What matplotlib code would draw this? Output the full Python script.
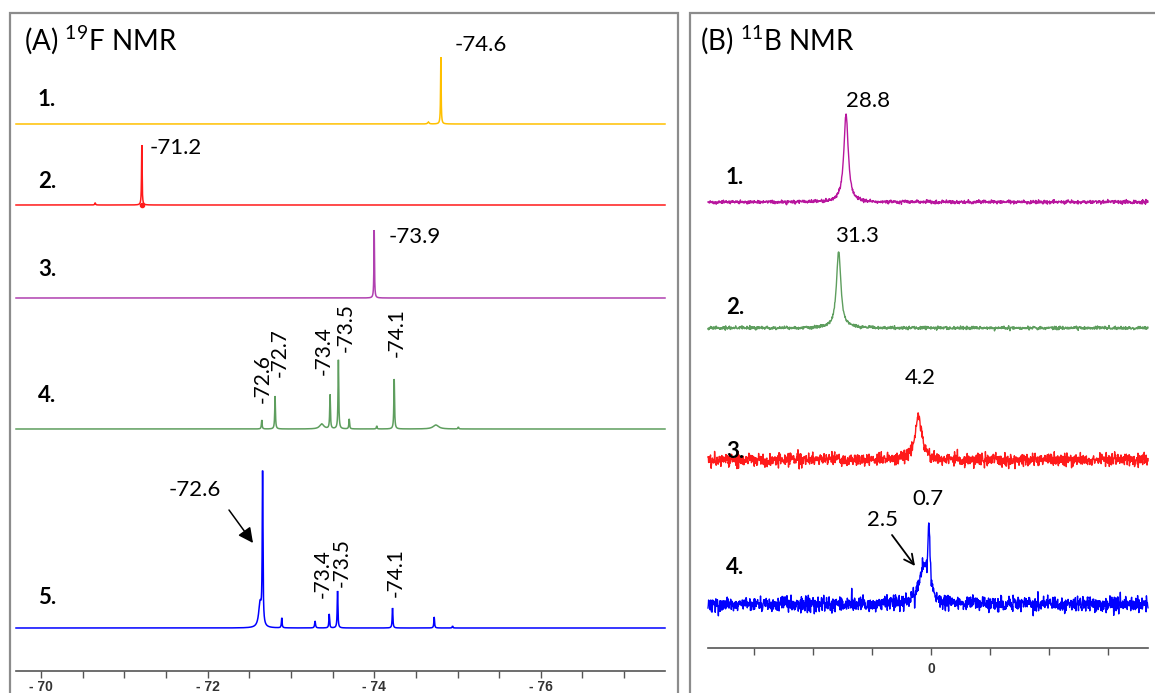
import numpy as np
import matplotlib
matplotlib.use("Agg")
import matplotlib.pyplot as plt
from matplotlib.patches import Rectangle

plt.rcParams['font.family'] = ['Lato', 'DejaVu Sans']
plt.rcParams['mathtext.fontset'] = 'custom'
plt.rcParams['mathtext.rm'] = 'Lato'

# ---------------- data: panel A, 19F NMR ----------------
f_labels = ["1.", "2.", "3.", "4.", "5."]
f_colors = ["#FFC000", "#FF1A1A", "#B040B0", "#5E9E5E", "#0000FF"]

f1_shift = [-74.80, -74.65]
f1_height = [67, 2]
f1_width = [0.004, 0.01]

f2_shift = [-71.21, -70.65]
f2_height = [60, 2]
f2_width = [0.004, 0.006]

f3_shift = [-74.00]
f3_height = [68]
f3_width = [0.004]

f4_shift = [-72.65, -72.81, -73.37, -73.47, -73.57, -73.70, -74.03, -74.24, -74.74, -75.01]
f4_height = [9, 33, 5, 34, 69, 10, 3, 50, 4, 2]
f4_width = [0.005, 0.005, 0.03, 0.005, 0.005, 0.005, 0.005, 0.005, 0.04, 0.005]

f5_shift = [-72.66, -72.63, -72.89, -73.29, -73.46, -73.56, -74.22, -74.72, -74.94]
f5_height = [150, 24, 10, 7, 14, 37, 20, 11, 2]
f5_width = [0.005, 0.02, 0.005, 0.006, 0.005, 0.005, 0.005, 0.005, 0.005]

f_ticks = [-70, -72, -74, -76]
f_ticklabels = ["- 70", "- 72", "- 74", "- 76"]

# peak annotations (text, index of peak)
f1_notes = [("-74.6", 0)]
f2_notes = [("-71.2", 0)]
f3_notes = [("-73.9", 0)]
f4_notes = [("-72.6", 0), ("-72.7", 1), ("-73.4", 3), ("-73.5", 4), ("-74.1", 7)]
f5_main_note = ("-72.6", 0)
f5_notes = [("-73.4", 4), ("-73.5", 5), ("-74.1", 6)]

# ---------------- data: panel B, 11B NMR ----------------
b_labels = ["1.", "2.", "3.", "4."]
b_colors = ["#B8169E", "#5E9E5E", "#FF1A1A", "#0000FF"]

b1_shift = [28.8]
b1_height = [88]
b1_width = [0.9]
b2_shift = [31.3]
b2_height = [76]
b2_width = [0.9]
b3_shift = [4.2]
b3_height = [42]
b3_width = [1.5]
b4_shift = [0.7, 2.5]
b4_height = [62, 34]
b4_width = [0.45, 1.8]
b_noise = [0.9, 0.8, 3.2, 3.8]

b_notes = [("28.8", 0), ("31.3", 0), ("4.2", 0), ("0.7", 0)]
b4_arrow_note = ("2.5", 1)

# ---------------- layout helpers ----------------
W, H = 1155, 693
fig = plt.figure(figsize=(W / 100, H / 100), dpi=100)

A_L, A_R, A_T, A_B = 16, 665, 20, 671      # axes box in image pixels
A_X70, A_PPM_PX = 41, 83.3                 # pixel of -70 ppm, pixels per ppm
B_L, B_R, B_T, B_B = 708, 1148, 20, 648
B_X0, B_PPM_PX = 931, 2.95


def fpos(px, py):
    return px / W, 1 - py / H


def pt(px):
    return px * 0.72


def a_ppm(px):
    return -70 - (px - A_X70) / A_PPM_PX


def b_ppm(px):
    return -(px - B_X0) / B_PPM_PX


def lorentz(x, shifts, heights, widths):
    y = np.zeros_like(x)
    for s, h, w in zip(shifts, heights, widths):
        y += h * w ** 2 / ((x - s) ** 2 + w ** 2)
    return y


def style_axes(ax):
    for s in ["top", "left", "right"]:
        ax.spines[s].set_visible(False)
    ax.spines["bottom"].set_color("#555555")
    ax.spines["bottom"].set_linewidth(1.2)
    ax.set_yticks([])
    ax.patch.set_alpha(0)


# panel borders
for (x0, x1) in [(10, 678), (690, 1175)]:
    fx0, fy0 = fpos(x0, 760)
    fx1, fy1 = fpos(x1, 13)
    fig.patches.append(Rectangle((fx0, fy0), fx1 - fx0, fy1 - fy0, transform=fig.transFigure,
                                 fill=False, edgecolor="#8c8c8c", linewidth=1.6, zorder=0))

lab_fs = 16
rot_fs = 15
row_fs = 16

# ---------------- panel A ----------------
axA = fig.add_axes([A_L / W, 1 - A_B / H, (A_R - A_L) / W, (A_B - A_T) / H])
style_axes(axA)
axA.set_xticks(f_ticks)
axA.set_xticklabels(f_ticklabels, fontfamily="Liberation Sans", fontweight="bold",
                    fontsize=10, color="#333333")
axA.set_xticks(np.arange(-70, -77.4, -0.5), minor=True)
axA.set_xlim(a_ppm(A_L), a_ppm(A_R))
axA.set_ylim(0, A_B - A_T)
axA.tick_params(axis="x", which="both", length=5, width=1, color="#555555", pad=1.5)


def a_y(py):
    return A_B - py


a_base = [a_y(124), a_y(205), a_y(298), a_y(429), a_y(628)]
xa = np.linspace(a_ppm(A_L), a_ppm(A_R), 40000)
f_sets = [(f1_shift, f1_height, f1_width), (f2_shift, f2_height, f2_width),
          (f3_shift, f3_height, f3_width), (f4_shift, f4_height, f4_width),
          (f5_shift, f5_height, f5_width)]
for i, (s, h, w) in enumerate(f_sets):
    axA.plot(xa, a_base[i] + lorentz(xa, s, h, w), color=f_colors[i], lw=1.1,
             solid_joinstyle="miter", clip_on=False)
axA.plot([f2_shift[0]], [a_base[1]], marker="o", ms=3, color=f_colors[1])

# horizontal labels for spectra 1-3
for i, notes, off in [(0, f1_notes, (14, 12)), (1, f2_notes, (8, -3)), (2, f3_notes, (14, -7))]:
    s, h, w = f_sets[i]
    for txt, k in notes:
        axA.annotate(txt, xy=(s[k], a_base[i] + h[k]), xytext=(pt(off[0]), pt(off[1])),
                     textcoords="offset points", ha="left", va="center", fontsize=lab_fs)
# rotated labels for spectrum 4
off4 = [(1, 17), (5, 19), (-6, 20), (7, 8), (3, 22)]
for (txt, k), off in zip(f4_notes, off4):
    axA.annotate(txt, xy=(f4_shift[k], a_base[3] + f4_height[k]),
                 xytext=(pt(off[0]), pt(off[1])), textcoords="offset points",
                 ha="center", va="bottom", rotation=90, fontsize=rot_fs)
# rotated labels for spectrum 5
off5 = [(-6, 16), (4, 4), (3, 11)]
for (txt, k), off in zip(f5_notes, off5):
    axA.annotate(txt, xy=(f5_shift[k], a_base[4] + f5_height[k]),
                 xytext=(pt(off[0]), pt(off[1])), textcoords="offset points",
                 ha="center", va="bottom", rotation=90, fontsize=rot_fs)
# -72.6 label with arrow in spectrum 5
axA.text(a_ppm(195), a_y(490), f5_main_note[0], ha="center", va="center", fontsize=lab_fs)
axA.annotate("", xy=(a_ppm(253), a_y(543)), xytext=(a_ppm(229), a_y(510)),
             arrowprops=dict(arrowstyle="-|>,head_length=0.9,head_width=0.45", color="black",
                             lw=1.1, shrinkA=0, shrinkB=0))

# row labels and title A
for lab, yy in zip(f_labels, [100, 182, 270, 396, 597]):
    fig.text(*fpos(38, yy), lab, fontsize=row_fs, fontweight="bold", ha="left", va="center")
fig.text(*fpos(24, 40), r"(A) $\mathrm{^{19}}$F NMR", fontsize=20, ha="left", va="center")

# ---------------- panel B ----------------
axB = fig.add_axes([B_L / W, 1 - B_B / H, (B_R - B_L) / W, (B_B - B_T) / H])
style_axes(axB)
axB.set_xticks([60, 40, 20, 0, -20, -40, -60])
axB.set_xticklabels(["", "", "", "0", "", "", ""], fontfamily="Liberation Sans",
                    fontweight="bold", fontsize=10, color="#333333")
axB.set_xlim(b_ppm(B_L), b_ppm(B_R))
axB.set_ylim(0, B_B - B_T)
axB.tick_params(axis="x", length=5, width=1, color="#555555", pad=5)


def b_y(py):
    return B_B - py


b_base = [b_y(202), b_y(328), b_y(460), b_y(604)]
xb = np.linspace(b_ppm(B_L), b_ppm(B_R), 1400)
rng = np.random.default_rng(7)
b_sets = [(b1_shift, b1_height, b1_width), (b2_shift, b2_height, b2_width),
          (b3_shift, b3_height, b3_width), (b4_shift, b4_height, b4_width)]
for i, (s, h, w) in enumerate(b_sets):
    noise = rng.normal(0, b_noise[i], xb.size)
    axB.plot(xb, b_base[i] + lorentz(xb, s, h, w) + noise, color=b_colors[i], lw=1.0,
             clip_on=False)

b_text_px = [(868, 101), (857, 236), (920, 378), (928, 499)]
for (txt, k), (tx, ty) in zip(b_notes, b_text_px):
    axB.text(b_ppm(tx), b_y(ty), txt, ha="center", va="center", fontsize=lab_fs)
axB.annotate("", xy=(b_ppm(915), b_y(566)), xytext=(b_ppm(892), b_y(535)),
             arrowprops=dict(arrowstyle="->,head_length=0.7,head_width=0.35", color="black",
                             lw=1.3, shrinkA=0, shrinkB=0))
axB.text(b_ppm(882), b_y(520), b4_arrow_note[0], ha="center", va="center", fontsize=lab_fs)

for lab, yy in zip(b_labels, [177, 308, 451, 567]):
    fig.text(*fpos(726, yy), lab, fontsize=row_fs, fontweight="bold", ha="left", va="center")
fig.text(*fpos(700, 40), r"(B) $\mathrm{^{11}}$B NMR", fontsize=20, ha="left", va="center")

fig.savefig("out.png", dpi=100, facecolor="white")
